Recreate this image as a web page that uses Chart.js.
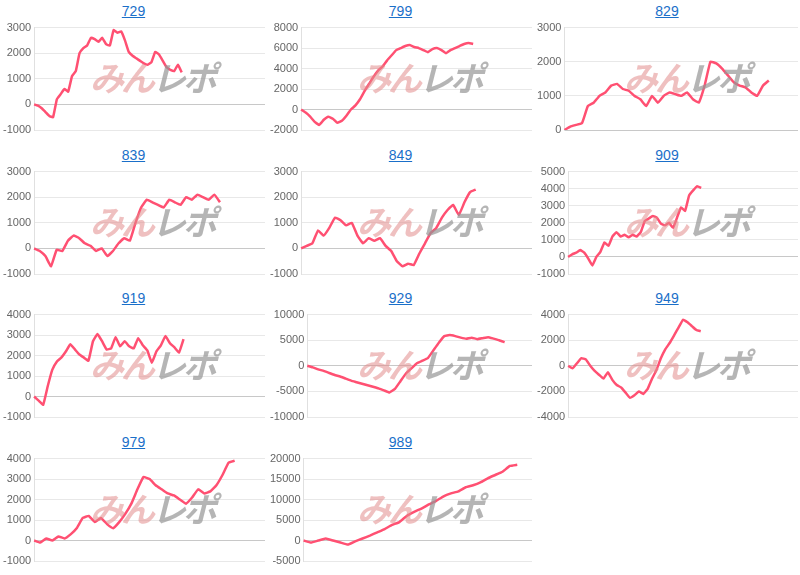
<!DOCTYPE html>
<html>
<head>
<meta charset="utf-8">
<script src="https://cdn.jsdelivr.net/npm/chart.js@4"></script>
<style>
  body { margin:0; background:#fff; font-family:"Liberation Sans", Arial, sans-serif; }
  #grid { display:grid; grid-template-columns:267px 267px 266px; grid-auto-rows:143.5px; width:800px; }
  .cell { position:relative; }
  .cell a { display:block; text-align:center; color:#1a6fc9; font-size:14px; height:18px; line-height:22px; text-decoration:underline; }
  .box { position:relative; height:124px; }
  .wm { position:absolute; left:90px; top:34px; font:italic bold 34px "Noto Sans CJK JP"; letter-spacing:-3px; pointer-events:none; }
  .wm .a { color:rgba(225,140,140,0.55); }
  .wm .b { color:rgba(150,150,150,0.7); }
</style>
</head>
<body>
<div id="grid"></div>
<script>
// chart names
const names = ["729","799","829","839","849","909","919","929","949","979","989"];

// series values, one per chart
const s729 = [0,-50,-150,-300,-450,-500,200,400,600,500,1100,1300,2000,2200,2300,2600,2550,2450,2600,2350,2300,2900,2800,2850,2500,2050,1900,1800,1700,1600,1550,1650,2050,1950,1700,1450,1350,1300,1550,1250];
const s799 = [0,-300,-700,-1200,-1500,-1000,-700,-900,-1300,-1100,-600,0,400,1000,1800,2500,3200,3800,4200,4800,5300,5800,6000,6200,6300,6100,6000,5800,5600,5900,6000,5800,5500,5800,6000,6200,6400,6500,6400];
const s829 = [0,100,150,200,700,800,1000,1100,1300,1350,1200,1150,1000,900,700,1000,800,1000,1100,1050,1000,1100,900,800,1300,2000,1950,1800,1600,1400,1300,1250,1100,1000,1300,1450];
const s839 = [0,-100,-300,-700,-50,-100,300,500,400,200,100,-100,0,-300,-100,200,400,300,1000,1600,1900,1800,1700,1600,1900,1800,1700,2000,1900,2100,2000,1900,2100,1800];
const s849 = [0,100,200,700,500,800,1200,1100,900,1000,500,200,400,300,400,100,-100,-500,-700,-600,-650,-200,200,600,800,1200,1500,1700,1300,1800,2200,2300];
const s909 = [0,150,250,400,250,-100,-500,0,300,850,650,1200,1450,1200,1300,1150,1300,1200,1450,2100,2250,2400,2300,1950,1850,2000,1700,2300,2900,2700,3600,3900,4150,4050];
const s919 = [0,-200,-400,500,1300,1700,1900,2200,2550,2300,2050,1900,1750,2700,3050,2700,2300,2350,2900,2450,2700,2450,2350,2850,2500,2250,1650,2200,2500,2950,2600,2400,2150,2800];
const s929 = [0,-300,-700,-1000,-1400,-1800,-2100,-2500,-2900,-3200,-3500,-3800,-4100,-4400,-4800,-5200,-4500,-3000,-1500,-500,500,1000,1500,3000,4500,5800,6000,5800,5500,5300,5500,5200,5400,5600,5300,5000,4600];
const s949 = [0,-200,200,600,500,0,-400,-700,-1000,-500,-1100,-1500,-1700,-2100,-2500,-2300,-2000,-2200,-1800,-1000,-300,600,1300,1800,2400,3000,3600,3400,3100,2800,2700];
const s979 = [0,-100,100,0,200,100,300,600,1100,1200,900,1100,800,600,900,1300,1800,2500,3100,3000,2700,2500,2300,2200,2000,1800,2100,2500,2300,2400,2700,3200,3800,3900];
const s989 = [0,-500,0,500,0,-500,-1000,-200,500,1200,2000,2800,3800,4500,6000,7000,7800,8800,9700,10800,11500,12000,13000,13500,14200,15200,16000,16800,18200,18500];
const series = [s729,s799,s829,s839,s849,s909,s919,s929,s949,s979,s989];

// x slot counts (the line only fills part of the axis)
const slots = [62,52,41,42,42,58,52,42,53,39,32];

// y axis ranges: [min, max, step]
const yMin  = [-1000,-2000,0,-1000,-1000,-1000,-1000,-10000,-4000,-1000,-5000];
const yMax  = [3000,8000,3000,3000,3000,5000,4000,10000,4000,4000,20000];
const yStep = [1000,2000,1000,1000,1000,1000,1000,5000,2000,1000,5000];

const grid = document.getElementById("grid");
names.forEach((name, i) => {
  const cell = document.createElement("div");
  cell.className = "cell";
  cell.innerHTML = `<a href="#">${name}</a><div class="box"><canvas></canvas><div class="wm"><span class="a">みん</span><span class="b">レポ</span></div></div>`;
  grid.appendChild(cell);
  const labels = Array.from({length: slots[i]}, (_, k) => k + 1);
  new Chart(cell.querySelector("canvas"), {
    type: "line",
    data: { labels: labels, datasets: [{ data: series[i], borderColor: "#ff5072", borderWidth: 2.5, pointRadius: 0, tension: 0.1, fill: false }] },
    options: {
      responsive: true, maintainAspectRatio: false, animation: false,
      plugins: { legend: { display: false }, tooltip: { enabled: false } },
      layout: { padding: { right: 2, bottom: 4 } },
      scales: {
        x: { display: true, ticks: { display: false }, grid: { display: false }, border: { display: false } },
        y: {
          min: yMin[i], max: yMax[i],
          ticks: { stepSize: yStep[i], color: "#666", font: { size: 11 }, callback: v => String(v) },
          grid: { color: c => c.tick && c.tick.value === 0 ? "#c8c8c8" : "#e8e8e8", drawTicks: false },
          border: { color: "#e0e0e0" }
        }
      }
    }
  });
});
</script>
</body>
</html>
